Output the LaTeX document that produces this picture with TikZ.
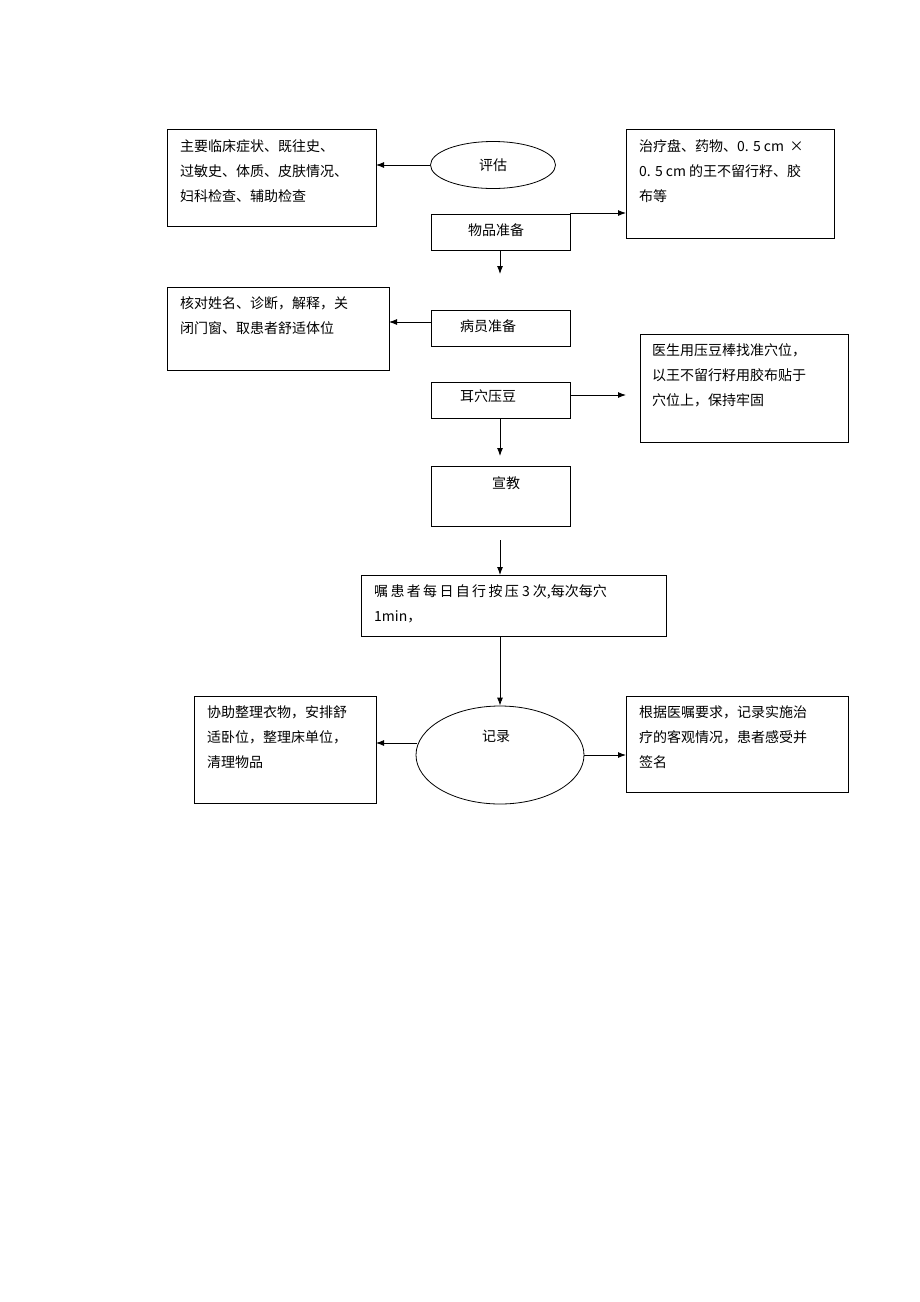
\documentclass[tikz,border=0pt]{standalone}
\usepackage{fontspec}
\setmainfont{Liberation Serif}
\newfontfamily\cjk{Noto Sans CJK SC}
\usetikzlibrary{shapes.geometric,arrows.meta}
\begin{document}
\begin{tikzpicture}[x=1pt,y=-1pt,
  box/.style={draw,line width=0.8pt,minimum width=#1,anchor=north west,inner sep=0pt},
  txt/.style={anchor=north west,align=left,inner sep=0pt,font=\cjk\fontsize{14}{25}\selectfont},
  arr/.style={-{Latex[length=8pt,width=6pt]},line width=0.9pt},
  ell/.style={draw,ellipse,line width=0.8pt,inner sep=0pt}]
\useasboundingbox (0,0) rectangle (920,1302);
% boxes as rectangles
\draw[line width=0.8pt] (167,129) rectangle (376,226);
\node[txt] (tA) at (180,139) {主要临床症状、既往史、\\过敏史、体质、皮肤情况、\\妇科检查、辅助检查};
\coordinate (A) at (376,165);
\node[ell,minimum width=125,minimum height=47] (pg) at (493,165) {\cjk\fontsize{14}{16}\selectfont 评估};
\draw[arr] (pg.west) -- (A);
\draw[line width=0.8pt] (431,214) rectangle (570,250);
\node[txt] (wp) at (468,223) {物品准备};
\draw[line width=0.8pt] (626,129) rectangle (834,238);
\node[txt] (tB) at (639,139) {治疗盘、药物、0. 5 cm \,×\\0. 5 cm 的王不留行籽、胶\\布等};
\coordinate (wpr) at (570,213); \coordinate (B) at (626,213);
\draw[arr] (wpr) -- (B);
\coordinate (wpb) at (500,250); \coordinate (wpd) at (500,274);
\draw[arr] (wpb) -- (wpd);
\draw[line width=0.8pt] (167,287) rectangle (389,370);
\node[txt] (tC) at (180,296) {核对姓名、诊断，解释，关\\闭门窗、取患者舒适体位};
\draw[line width=0.8pt] (431,310) rectangle (570,346);
\node[txt] (by) at (460,319) {病员准备};
\coordinate (byl) at (431,322); \coordinate (C) at (389,322);
\draw[arr] (byl) -- (C);
\draw[line width=0.8pt] (431,382) rectangle (570,418);
\node[txt] (ex) at (460,390) {耳穴压豆};
\coordinate (exr) at (570,395); \coordinate (D) at (626,395);
\draw[arr] (exr) -- (D);
\coordinate (exb) at (500,418); \coordinate (exd) at (500,456);
\draw[arr] (exb) -- (exd);
\draw[line width=0.8pt] (640,334) rectangle (848,442);
\node[txt] (tD) at (652,343) {医生用压豆棒找准穴位，\\以王不留行籽用胶布贴于\\穴位上，保持牢固};
\draw[line width=0.8pt] (431,466) rectangle (570,526);
\node[txt] (xj) at (492,476) {宣教};
\coordinate (s1) at (500,540); \coordinate (s2) at (500,575);
\draw[arr] (s1) -- (s2);
\draw[line width=0.8pt] (361,575) rectangle (666,636);
\node[txt] (zh) at (374,584) {嘱\,患\,者\,每\,日\,自\,行\,按\,压 3 次,每次每穴\\1min，};
\node[ell,minimum width=168,minimum height=98] (jl) at (500,755) {};
\node[txt] at (482,730) {记录};
\coordinate (zb) at (500,636);
\draw[arr] (zb) -- (jl.north);
\draw[line width=0.8pt] (194,696) rectangle (376,803);
\node[txt] (tE) at (207,705) {协助整理衣物，安排舒\\适卧位，整理床单位，\\清理物品};
\coordinate (jll) at (417,743); \coordinate (E) at (376,743);
\draw[arr] (jll) -- (E);
\draw[line width=0.8pt] (626,696) rectangle (848,792);
\node[txt] (tF) at (639,705) {根据医嘱要求，记录实施治\\疗的客观情况，患者感受并\\签名};
\coordinate (F) at (626,755);
\draw[arr] (jl.east) -- (F);
\end{tikzpicture}
\end{document}
